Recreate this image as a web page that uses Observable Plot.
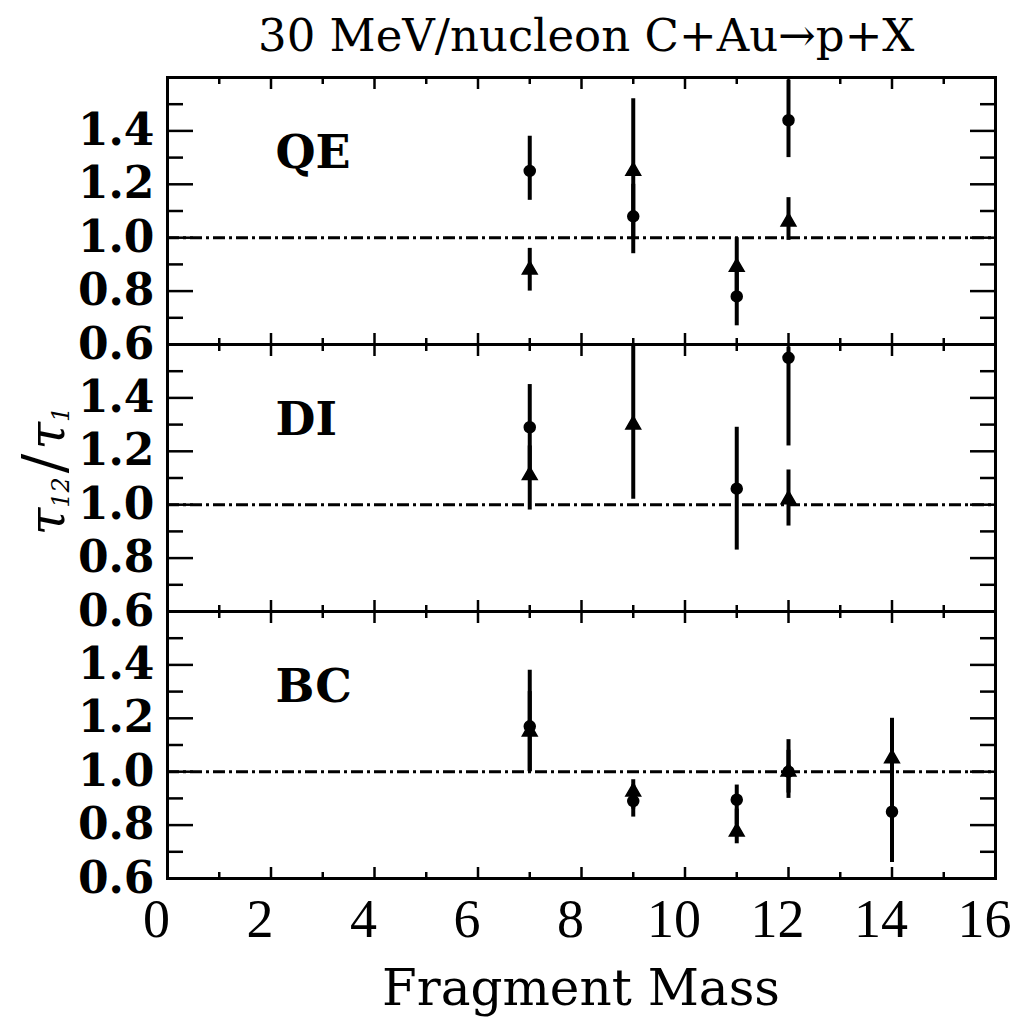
<!DOCTYPE html>
<html>
<head>
<meta charset="utf-8">
<script src="https://cdn.jsdelivr.net/npm/d3@7"></script>
<script src="https://cdn.jsdelivr.net/npm/@observablehq/plot@0.6"></script>
<style>
  html, body { margin: 0; padding: 0; background: #fff; overflow: hidden; }
  #title { height: 62px; line-height: 72px; font-family: "DejaVu Serif"; font-size: 45px; white-space: nowrap; padding-left: 258px; overflow: visible; color: #000; }
  #chart svg { display: block; }
</style>
</head>
<body>
<div id="title">30 MeV/nucleon C+Au→p+X</div>
<div id="chart"></div>
<script>
// ---- data ----
const panels = ["QE", "DI", "BC"];
const panel   = ["QE","QE","QE","QE","QE","QE","QE","QE",
                 "DI","DI","DI","DI","DI","DI",
                 "BC","BC","BC","BC","BC","BC","BC","BC","BC","BC"];
const mass    = [7, 7, 9, 9, 11, 11, 12, 12,
                 7, 7, 9, 11, 12, 12,
                 7, 7, 9, 9, 11, 11, 12, 12, 14, 14];
const marker  = ["circle","triangle","triangle","circle","triangle","circle","circle","triangle",
                 "circle","triangle","triangle","circle","circle","triangle",
                 "circle","triangle","triangle","circle","circle","triangle","circle","triangle","triangle","circle"];
const ratio   = [1.25, 0.88, 1.25, 1.08, 0.89, 0.78, 1.44, 1.06,
                 1.29, 1.11, 1.30, 1.06, 1.55, 1.02,
                 1.17, 1.15, 0.925, 0.89, 0.895, 0.775, 1.00, 1.00, 1.05, 0.85];
const errLow  = [1.14, 0.80, 1.00, 0.94, 0.80, 0.67, 1.30, 0.99,
                 1.12, 0.98, 1.02, 0.83, 1.22, 0.92,
                 1.00, 1.00, 0.86, 0.83, 0.80, 0.73, 0.90, 0.92, 0.90, 0.66];
const errHigh = [1.38, 0.96, 1.52, 1.20, 1.00, 0.88, 1.59, 1.15,
                 1.45, 1.22, 1.60, 1.29, 1.59, 1.13,
                 1.38, 1.30, 0.97, 0.95, 0.95, 0.86, 1.12, 1.08, 1.20, 1.00];
const xTicksMajor = [0, 2, 4, 6, 8, 10, 12, 14, 16];
const xTicksMinor = [1, 3, 5, 7, 9, 11, 13, 15];
const yTicksMajor = [0.6, 0.8, 1.0, 1.2, 1.4];
const yTicksMinor = [0.7, 0.9, 1.1, 1.3, 1.5];
const referenceLine = [1.0];

const data = mass.map((m, i) => ({
  panel: panel[i], mass: m, marker: marker[i], ratio: ratio[i], lo: errLow[i], hi: errHigh[i]
}));

const tickStyle = { fill: "none", stroke: "black", strokeWidth: 2.5, label: null };

const chart = Plot.plot({
  width: 1013,
  height: 955,
  marginTop: 15,
  marginBottom: 139,
  marginLeft: 167,
  marginRight: 18,
  style: { background: "white", color: "black", overflow: "visible" },
  x: { domain: [0, 16] },
  y: { domain: [0.6, 1.6] },
  fy: { domain: panels, padding: 0, axis: null, label: null },
  marks: [
    Plot.ruleY(referenceLine, { stroke: "black", strokeWidth: 3, strokeDasharray: "12,4,3,4" }),
    Plot.ruleX(data, { fy: "panel", x: "mass", y1: "lo", y2: "hi", stroke: "black", strokeWidth: 4 }),
    Plot.dot(data, { fy: "panel", x: "mass", y: "ratio", symbol: "marker", r: 5.5, fill: "black", stroke: "black" }),
    Plot.text(panels, { fy: d => d, text: d => d, frameAnchor: "top-left", dx: 108, dy: 76,
      textAnchor: "start", lineAnchor: "middle", fontFamily: "DejaVu Serif", fontWeight: "bold", fontSize: 46, fill: "black" }),
    // y ticks (inward), both sides
    Plot.axisY({ ...tickStyle, ticks: yTicksMajor, anchor: "left", tickSize: -26 }),
    Plot.axisY({ ...tickStyle, ticks: yTicksMinor, anchor: "left", tickSize: -16 }),
    Plot.axisY({ ...tickStyle, ticks: yTicksMajor, anchor: "right", tickSize: -26 }),
    Plot.axisY({ ...tickStyle, ticks: yTicksMinor, anchor: "right", tickSize: -16 }),
    // y tick labels
    Plot.axisY({ ticks: yTicksMajor, anchor: "left", tickSize: 0, tickPadding: 13, tickFormat: d3.format(".1f"),
      fontFamily: "DejaVu Serif", fontWeight: "bold", fontSize: 44, fill: "black", label: null }),
    // x ticks (inward), top and bottom of every panel
    Plot.axisX({ ...tickStyle, ticks: xTicksMajor, anchor: "bottom", tickSize: -11, facetAnchor: null }),
    Plot.axisX({ ...tickStyle, ticks: xTicksMinor, anchor: "bottom", tickSize: -6, facetAnchor: null }),
    Plot.axisX({ ...tickStyle, ticks: xTicksMajor, anchor: "top", tickSize: -11, facetAnchor: null }),
    Plot.axisX({ ...tickStyle, ticks: xTicksMinor, anchor: "top", tickSize: -6, facetAnchor: null }),
    // x tick labels
    Plot.axisX({ ticks: xTicksMajor, anchor: "bottom", tickSize: 0, tickPadding: 20, dx: -11, facetAnchor: "bottom",
      fontFamily: "Liberation Serif", fontSize: 54, fill: "black", label: null }),
    Plot.frame({ stroke: "black", strokeWidth: 3 })
  ]
});

document.getElementById("chart").appendChild(chart);

// axis titles
const svg = d3.select(chart);
svg.append("text")
  .attr("x", 581).attr("y", 943)
  .attr("text-anchor", "middle")
  .attr("font-family", "DejaVu Serif").attr("font-size", 50).attr("fill", "black")
  .text("Fragment Mass");

const yl = svg.append("text")
  .attr("transform", "translate(64,409) rotate(-90)")
  .attr("text-anchor", "middle")
  .attr("font-family", "DejaVu Serif").attr("font-style", "italic").attr("font-size", 50).attr("fill", "black");
yl.append("tspan").text("τ");
yl.append("tspan").attr("font-size", 24).attr("dy", 5).text("12");
yl.append("tspan").attr("font-size", 58).attr("font-style", "normal").attr("dx", 4).attr("dy", -5).text("/");
yl.append("tspan").attr("dx", 4).text("τ");
yl.append("tspan").attr("font-size", 24).attr("dy", 5).text("1");
</script>
</body>
</html>
